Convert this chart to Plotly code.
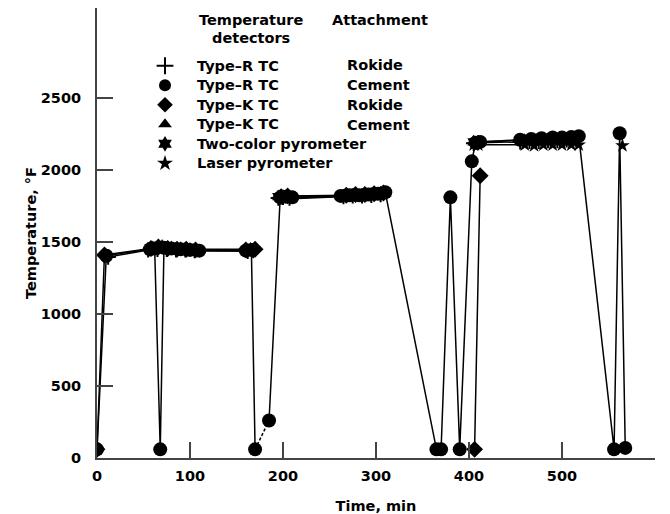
import plotly.graph_objects as go

N = None
# Type-R TC, Rokide (+)
r_rok_t = [12, 55, 65, 75, 85, 95, 105, 162, 168, N, 195, 200, 207, 265, 275, 285, 295, 305, N, 405, 410, 455, 465, 475, 485, 495, 505, 515]
r_rok_T = [1395, 1445, 1450, 1450, 1445, 1445, 1440, 1435, 1440, N, 1805, 1810, 1805, 1815, 1820, 1820, 1825, 1830, N, 2185, 2190, 2195, 2200, 2200, 2205, 2205, 2210, 2215]

# Type-R TC, Cement (circle)
r_cem_t = [0, 10, 57, 62, 68, 72, 80, 90, 100, 110, 160, 166, 170, 185, 197, 203, 210, 262, 272, 282, 292, 302, 310, 365, 370, 380, 390, 403, 407, 412, 455, 467, 478, 490, 500, 510, 518, 556, 562, 568]
r_cem_T = [60, 1405, 1450, 1455, 60, 1460, 1455, 1450, 1445, 1440, 1440, 1445, 60, 260, 1810, 1815, 1810, 1820, 1825, 1825, 1830, 1835, 1845, 60, 60, 1810, 60, 2060, 2190, 2195, 2210, 2215, 2220, 2225, 2225, 2230, 2235, 60, 2255, 70]
DASH_AT = 12  # segment r_cem[12] -> r_cem[13] is dashed

# Type-K TC, Rokide (diamond)
k_rok_t = [0, 8, 58, 66, 76, 86, 96, 106, 160, 170, N, 198, 205, 268, 278, 288, 298, 308, N, 406, 412]
k_rok_T = [60, 1410, 1455, 1465, 1455, 1450, 1450, 1445, 1445, 1450, N, 1815, 1820, 1825, 1830, 1830, 1835, 1840, N, 60, 1960]

# Type-K TC, Cement (triangle)
k_cem_t = [197, 202, 209, 270, 280, 290, 300, 310, N, 460, 470, 480, 490, 500, 510]
k_cem_T = [1800, 1805, 1800, 1815, 1820, 1820, 1825, 1835, N, 2195, 2200, 2205, 2210, 2210, 2215]

# Two-color pyrometer
two_t = [60, 70, 80, 90, 100, 165, N, 195, 205, 270, 290, 305, N, 405, 460, 480, 500, 515]
two_T = [1460, 1470, 1460, 1455, 1450, 1450, N, 1815, 1815, 1825, 1830, 1840, N, 2195, 2205, 2210, 2215, 2220]

# Laser pyrometer (star)
las_t = [405, 410, 460, 470, 480, 490, 500, 510, 518, N, 565]
las_T = [2175, 2175, 2175, 2170, 2175, 2175, 2175, 2175, 2175, N, 2170]

detectors = ["Type–R TC", "Type–R TC", "Type–K TC", "Type–K TC", "Two-color pyrometer", "Laser pyrometer"]
attachments = ["Rokide", "Cement", "Rokide", "Cement"]

x_ticks = [0, 100, 200, 300, 400, 500, 600]
y_ticks = [0, 500, 1000, 1500, 2000, 2500]

series = [
    (detectors[0], r_rok_t, r_rok_T, "cross-thin", 11),
    (detectors[1], r_cem_t[:DASH_AT + 1] + [None] + r_cem_t[DASH_AT + 1:],
     r_cem_T[:DASH_AT + 1] + [None] + r_cem_T[DASH_AT + 1:], "circle", 14),
    (detectors[2], k_rok_t, k_rok_T, "diamond", 13),
    (detectors[3], k_cem_t, k_cem_T, "triangle-up", 11),
    (detectors[4], two_t, two_T, "hexagram", 11),
    (detectors[5], las_t, las_T, "star", 11),
]
draw_order = [2, 3, 4, 5, 0, 1]  # circles on top

FONT = "DejaVu Sans"
FS = 14.5
TXT = dict(family=FONT, size=FS, color="black", weight="bold")

fig = go.Figure()
for i in draw_order:
    name, t, T, sym, sz = series[i]
    fig.add_trace(go.Scatter(
        x=t, y=T, mode="lines+markers", name=name, showlegend=False,
        line=dict(color="black", width=1.5),
        marker=dict(symbol=sym, size=sz, color="black",
                    line=dict(color="black", width=2 if sym == "cross-thin" else 0)),
        connectgaps=False,
    ))
# dashed segment of the Type-R cement series
fig.add_trace(go.Scatter(
    x=r_cem_t[DASH_AT:DASH_AT + 2], y=r_cem_T[DASH_AT:DASH_AT + 2], mode="lines",
    showlegend=False, line=dict(color="black", width=1.5, dash="3px,2px"),
))
# legend keys (markers only)
for name, t, T, sym, sz in series:
    fig.add_trace(go.Scatter(
        x=[None], y=[None], mode="markers",
        name='<span style="font-size:14.5px">' + name + '</span>', showlegend=True,
        marker=dict(symbol=sym, size=11, color="black",
                    line=dict(color="black", width=2 if sym == "cross-thin" else 0)),
    ))

# page offset (browser body margin) -> work in screenshot pixels
OFF = 8
PL, PR, PT, PB = 97, 655, 8, 458  # plot area in screenshot pixels
W, H = 662, 506


def px(xs):
    return (xs - PL) / (PR - PL)


def py(ys):
    return (PB - ys) / (PB - PT)


def note(text, xs, ys):
    return dict(text=text, x=px(xs), y=py(ys), xref="paper", yref="paper",
                xanchor="left", yanchor="middle", showarrow=False, font=TXT)


annotations = [note("Temperature", 197, 20), note("detectors", 210, 38), note("Attachment", 330, 20)]
rows = [65, 85, 105, 125]
for a, yy in zip(attachments, rows):
    annotations.append(note(a, 345, yy))

fig.update_layout(
    width=W, height=H,
    margin=dict(l=PL - OFF, r=W - (PR - OFF), t=PT - OFF, b=H - (PB - OFF)),
    plot_bgcolor="white", paper_bgcolor="white",
    font=TXT,
    showlegend=True,
    legend=dict(
        x=px(133), y=py(51), xanchor="left", yanchor="top",
        bgcolor="rgba(0,0,0,0)", itemwidth=54,
        font=dict(family=FONT, size=12.7, color="black", weight="bold"),
        itemsizing="constant", tracegroupgap=0,
    ),
    annotations=annotations,
    xaxis=dict(
        range=[0, 600], tickvals=x_ticks, ticktext=[str(v) for v in x_ticks],
        ticks="inside", ticklen=16, tickwidth=1.5, tickcolor="#444",
        showline=True, linecolor="#444", linewidth=2, showgrid=False, zeroline=False,
        tickfont=TXT, automargin=False, ticklabelstandoff=4,
        title=dict(text="Time, min", font=TXT, standoff=20),
    ),
    yaxis=dict(
        range=[0, 3125], tickvals=y_ticks, ticktext=[str(v) for v in y_ticks],
        ticks="inside", ticklen=16, tickwidth=1.5, tickcolor="#444",
        showline=True, linecolor="#444", linewidth=2, showgrid=False, zeroline=False,
        tickfont=TXT, automargin=False, ticklabelstandoff=11,
        title=dict(text="Temperature, °F", font=TXT, standoff=1),
    ),
)

fig.write_html("out.html")
